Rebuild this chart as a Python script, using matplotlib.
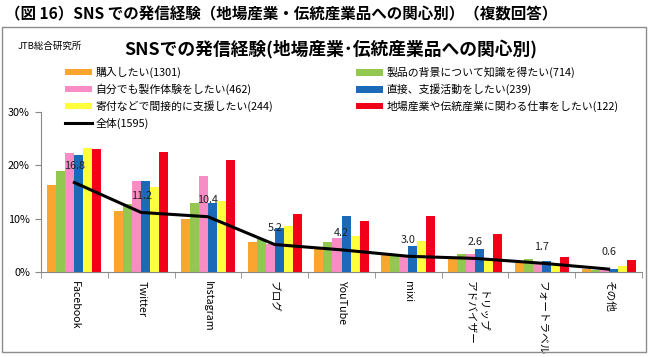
import numpy as np
import matplotlib
matplotlib.use("Agg")
import matplotlib.pyplot as plt
from matplotlib.patches import Rectangle, Patch
from matplotlib.lines import Line2D

plt.rcParams['font.family'] = ['Noto Sans CJK JP', 'DejaVu Sans']

# categories (x axis)
categories = ['Facebook', 'Twitter', 'Instagram', 'ブログ', 'YouTube', 'mixi',
              'トリップ\nアドバイザー', 'フォートラベル', 'その他']

# series labels
series_names = ['購入したい(1301)', '製品の背景について知識を得たい(714)',
                '自分でも製作体験をしたい(462)', '直接、支援活動をしたい(239)',
                '寄付などで間接的に支援したい(244)', '地場産業や伝統産業に関わる仕事をしたい(122)']
series_colors = ['#FBA531', '#92C850', '#F88CC4', '#1A6AB8', '#FFFF3C', '#F2001A']

# values in %
buy = [16.3, 11.4, 9.9, 5.6, 4.3, 3.2, 2.6, 1.8, 0.6]
knowledge = [18.9, 12.8, 13.0, 6.3, 5.6, 3.4, 3.4, 2.4, 0.5]
experience = [22.3, 17.1, 18.0, 5.3, 6.4, 2.9, 3.4, 1.6, 0.5]
direct = [21.9, 17.0, 12.9, 8.3, 10.6, 4.9, 4.3, 2.1, 0.6]
donate = [23.2, 15.9, 13.3, 8.7, 6.8, 5.8, 2.3, 1.4, 1.1]
work = [23.0, 22.6, 21.1, 11.0, 9.6, 10.6, 7.2, 2.9, 2.3]

overall_name = '全体(1595)'
overall = [16.8, 11.2, 10.4, 5.2, 4.2, 3.0, 2.6, 1.7, 0.6]

series_values = [buy, knowledge, experience, direct, donate, work]

W, H = 652, 357
fig = plt.figure(figsize=(W / 100, H / 100), dpi=100)

# outer frame of the chart
fig.add_artist(Rectangle((2 / W, 1 - 352 / H), 644 / W, 325 / H,
                         transform=fig.transFigure, fill=False,
                         edgecolor='#8c8c8c', linewidth=1.0))

fig.text(5 / W, 1 - 14 / H, '（図 16）SNS での発信経験（地場産業・伝統産業品への関心別）（複数回答）',
         fontsize=11.2, fontweight='bold', va='center', ha='left')
fig.text(18 / W, 1 - 46 / H, 'JTB総合研究所', fontsize=6.8, va='center', ha='left')
fig.text(331 / W, 1 - 49 / H, 'SNSでの発信経験(地場産業･伝統産業品への関心別)',
         fontsize=12.8, fontweight='bold', va='center', ha='center')

ax = fig.add_axes([41 / W, 1 - 272.3 / H, 601 / W, 160.3 / H])

x = np.arange(len(categories))
bw = 0.135
n = len(series_values)
for i, (vals, col) in enumerate(zip(series_values, series_colors)):
    ax.bar(x + (i - (n - 1) / 2) * bw, vals, width=bw, color=col, linewidth=0)

ax.plot(x, overall, color='black', linewidth=2.2)
for xi, v in zip(x, overall):
    ax.annotate('%.1f' % v, (xi, v), xytext=(0, 12), textcoords='offset points',
                ha='center', va='center', fontsize=7.8, color='#222222')

ax.set_xlim(-0.5, len(categories) - 0.5)
ax.set_ylim(0, 30)
ax.set_yticks([0, 10, 20, 30])
ax.set_yticklabels(['0%', '10%', '20%', '30%'], fontsize=7.8)
ax.set_xticks(x)
ax.set_xticklabels(categories, rotation=-90, fontsize=7.7, va='top', ha='center',
                   multialignment='center')
ax.set_xticks(np.arange(len(categories) + 1) - 0.5, minor=True)
ax.tick_params(axis='x', which='major', length=0, pad=6)
ax.tick_params(axis='x', which='minor', length=4, color='#888888')
ax.tick_params(axis='y', length=4, color='#888888', pad=4)
for s in ['top', 'right']:
    ax.spines[s].set_visible(False)
ax.spines['left'].set_color('#888888')
ax.spines['bottom'].set_color('#888888')

# legends
patches = [Patch(facecolor=c, edgecolor='none') for c in series_colors]
left_handles = [patches[0], patches[2], patches[4],
                Line2D([], [], color='black', linewidth=2.2)]
left_labels = [series_names[0], series_names[2], series_names[4], overall_name]
right_handles = [patches[1], patches[3], patches[5]]
right_labels = [series_names[1], series_names[3], series_names[5]]

leg_kw = dict(frameon=False, fontsize=7.8, borderpad=0, handlelength=2.5,
              handleheight=0.55, handletextpad=0.3, labelspacing=0.5,
              loc='upper left', borderaxespad=0)
leg1 = fig.legend(left_handles, left_labels,
                  bbox_to_anchor=(65 / W, 1 - 67 / H), **leg_kw)
leg2 = fig.legend(right_handles, right_labels,
                  bbox_to_anchor=(356 / W, 1 - 67 / H), **leg_kw)

fig.savefig('out.png', dpi=100)
